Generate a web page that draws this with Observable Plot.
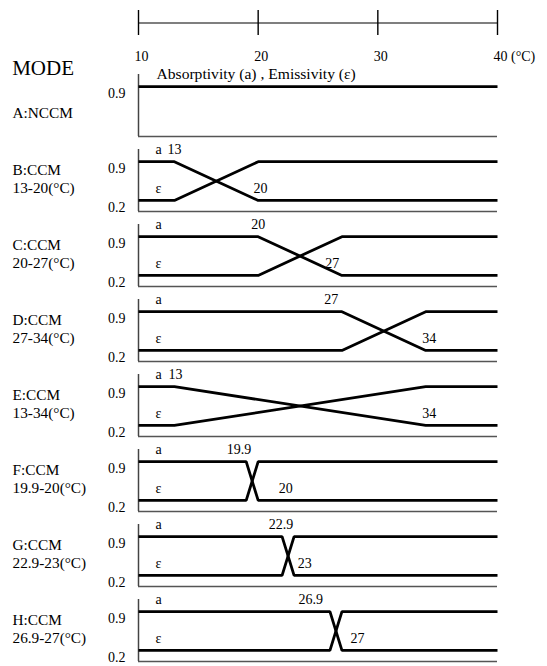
<!DOCTYPE html>
<html><head><meta charset="utf-8">
<script src="https://cdn.jsdelivr.net/npm/d3@7"></script>
<script src="https://cdn.jsdelivr.net/npm/@observablehq/plot@0.6"></script>
<style>
body{margin:0;background:#fff}
#chart svg{display:block;overflow:visible}
#chart svg, #chart svg text{font-family:"Liberation Serif","Times New Roman",Times,serif !important}
</style>
</head><body><div id="chart"></div>
<script>
// ---- data ----
const xTicks = [10, 20, 30, 40];
const xUnit = "(°C)";
const modes = ["A", "B", "C", "D", "E", "F", "G", "H"];
const modeNames = ["A:NCCM", "B:CCM\n13-20(°C)", "C:CCM\n20-27(°C)", "D:CCM\n27-34(°C)",
  "E:CCM\n13-34(°C)", "F:CCM\n19.9-20(°C)", "G:CCM\n22.9-23(°C)", "H:CCM\n26.9-27(°C)"];
const xMin = 10, xMax = 40;
const high = 0.9, low = 0.2;
// temperature where absorptivity starts falling / reaches its low value (as drawn)
const transStart = [null, 13, 20, 27, 13, 19, 22, 26];
const transEnd   = [null, 20, 27, 34, 34, 20, 23, 27];
const topLabels   = ["", "13", "20", "27", "13", "19.9", "22.9", "26.9"];
const topLabelAt  = [null, 13, 20, 26.1, 13.1, 18.4, 21.9, 24.4];
const lowLabels   = ["", "20", "27", "34", "34", "20", "23", "27"];
const lowLabelAt  = [null, 20.2, 26.2, 34.3, 34.3, 22.3, 23.9, 28.3];
const headerText = "Absorptivity (a) , Emissivity (ε)";

// ---- tables ----
const series = [];
modes.forEach((m, i) => {
  if (transStart[i] == null) {
    series.push({mode: m, s: "a", x: xMin, y: high}, {mode: m, s: "a", x: xMax, y: high});
  } else {
    series.push(
      {mode: m, s: "a", x: xMin, y: high}, {mode: m, s: "a", x: transStart[i], y: high},
      {mode: m, s: "a", x: transEnd[i], y: low}, {mode: m, s: "a", x: xMax, y: low},
      {mode: m, s: "e", x: xMin, y: low}, {mode: m, s: "e", x: transStart[i], y: low},
      {mode: m, s: "e", x: transEnd[i], y: high}, {mode: m, s: "e", x: xMax, y: high});
  }
});
const modeRows = modes.map((m, i) => ({mode: m, name: modeNames[i]}));
const sideRows = [];
const yTickRows = [];
const numRows = [];
modes.forEach((m, i) => {
  if (i === 0) {
    yTickRows.push({mode: m, t: String(high), y: high});
  } else {
    sideRows.push({mode: m, t: "a", y: high}, {mode: m, t: "ε", y: low});
    yTickRows.push({mode: m, t: String(high), y: high}, {mode: m, t: String(low), y: low});
    numRows.push({mode: m, t: topLabels[i], x: topLabelAt[i], y: high},
                 {mode: m, t: lowLabels[i], x: lowLabelAt[i], y: low});
  }
});

const font = "Liberation Serif, Times New Roman, serif";
const W = 547, mL = 138, mR = 50;

// ---- top axis ----
const axisPlot = Plot.plot({
  width: W, height: 62,
  marginLeft: mL, marginRight: mR, marginTop: 10, marginBottom: 27,
  style: {fontFamily: font, fontSize: "14px", background: "transparent", color: "black"},
  x: {domain: [xMin, xMax], axis: null},
  y: {domain: [0, 1], axis: null},
  marks: [
    Plot.ruleY([0.5], {stroke: "black", strokeWidth: 1.2}),
    Plot.tickX(xTicks, {x: d => d, stroke: "black", strokeWidth: 1.4}),
    Plot.text(xTicks, {x: d => d, text: d => d === xMax ? `${d} ${xUnit}` : String(d),
      frameAnchor: "bottom", textAnchor: "start", lineAnchor: "bottom", dx: -4, dy: 25.7,
      fill: "black", fontFamily: font, fontSize: 14})
  ]
});

// ---- panels ----
const mainPlot = Plot.plot({
  width: W, height: 604,
  marginLeft: mL, marginRight: mR, marginTop: 11.3, marginBottom: 5.3,
  style: {fontFamily: font, fontSize: "14px", background: "transparent", color: "black"},
  x: {domain: [xMin, xMax], axis: null},
  y: {domain: [0, 1.12], axis: null},
  fy: {domain: modes, axis: null, paddingInner: 0.178, paddingOuter: 0},
  marks: [
    Plot.ruleY([0], {stroke: "#555", strokeWidth: 1.3}),
    Plot.ruleX([xMin], {stroke: "#444", strokeWidth: 1.5}),
    Plot.line(series, {x: "x", y: "y", z: "s", fy: "mode", stroke: "black", strokeWidth: 2.8,
      strokeLinejoin: "miter", strokeLinecap: "butt"}),
    Plot.text(modeRows, {fy: "mode", y: low, text: "name", frameAnchor: "left",
      textAnchor: "start", lineAnchor: "bottom", dx: -126, dy: -7.5, fontSize: 15.3, lineHeight: 1.17,
      fill: "black", fontFamily: font}),
    Plot.text(sideRows, {fy: "mode", y: "y", text: "t", frameAnchor: "left",
      textAnchor: "start", lineAnchor: "bottom", dx: 17, dy: -7.7, fill: "black", fontFamily: font, fontSize: 14}),
    Plot.text([{mode: "A", t: headerText}], {fy: "mode", y: high, text: "t", frameAnchor: "left",
      textAnchor: "start", lineAnchor: "bottom", dx: 18, dy: -7.7, fill: "black", fontFamily: font, fontSize: 15.6}),
    Plot.text(yTickRows, {fy: "mode", y: "y", text: "t", frameAnchor: "left",
      textAnchor: "end", lineAnchor: "middle", dx: -13, dy: 7, fill: "black", fontFamily: font, fontSize: 14}),
    Plot.text(numRows, {fy: "mode", x: "x", y: "y", text: "t",
      textAnchor: "middle", lineAnchor: "bottom", dy: -7.7, fill: "black", fontFamily: font, fontSize: 14}),
    Plot.text([{mode: "A", t: "MODE"}], {fy: "mode", text: "t", frameAnchor: "top-left",
      textAnchor: "start", lineAnchor: "bottom", dx: -126.3, dy: 0, fontSize: 21, fill: "black", fontFamily: font})
  ]
});

document.getElementById("chart").append(axisPlot, mainPlot);
</script>
</body></html>
